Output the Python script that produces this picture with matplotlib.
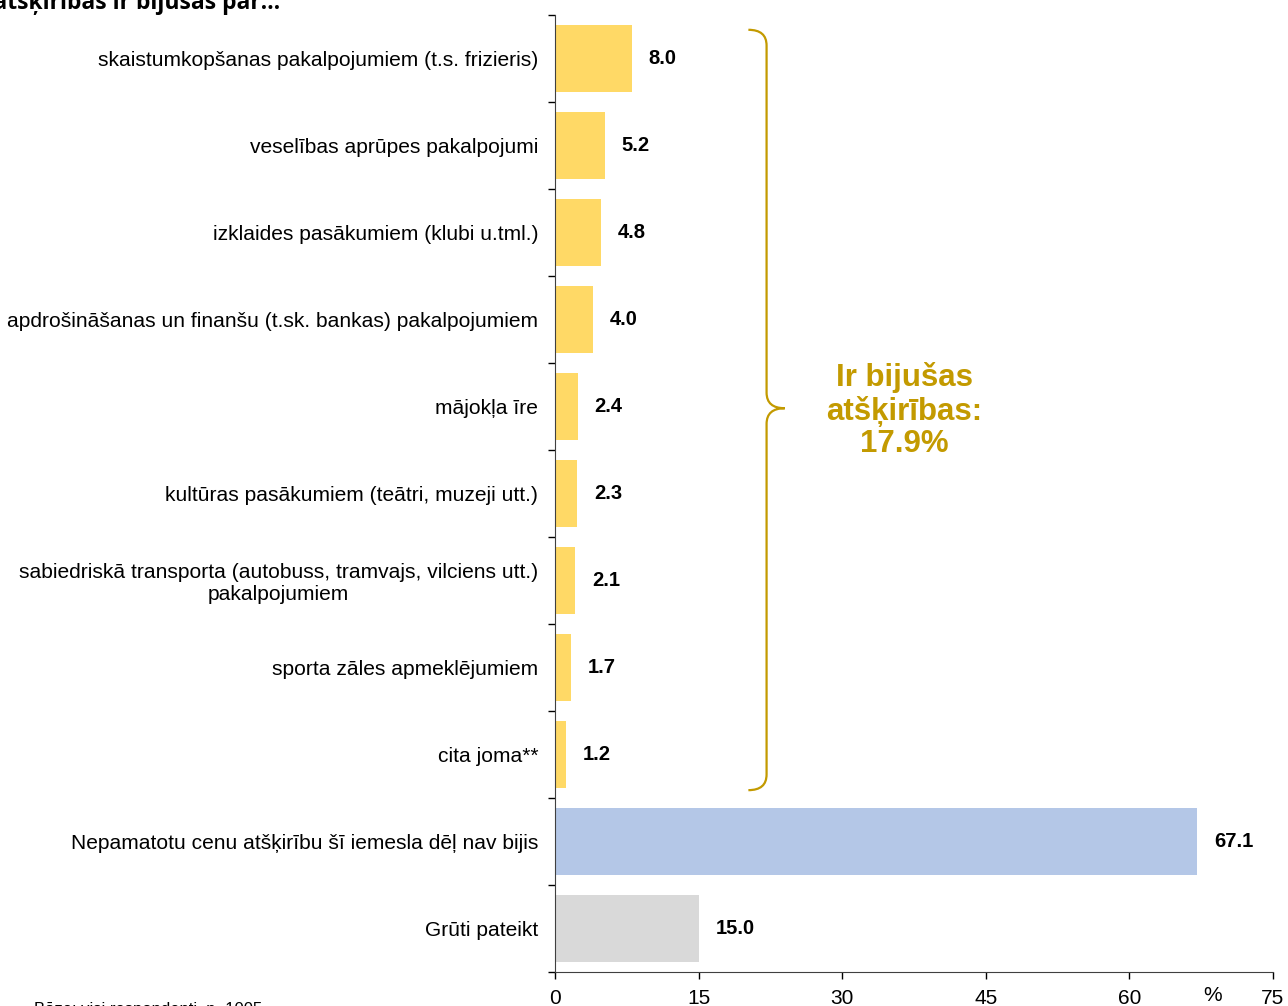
import matplotlib.pyplot as plt
from matplotlib.path import Path
from matplotlib.patches import PathPatch
import numpy as np

plt.rcParams['font.family'] = ['Liberation Sans', 'DejaVu Sans']

categories = [
    'skaistumkopšanas pakalpojumiem (t.s. frizieris)',
    'veselības aprūpes pakalpojumi',
    'izklaides pasākumiem (klubi u.tml.)',
    'apdrošināšanas un finanšu (t.sk. bankas) pakalpojumiem',
    'mājokļa īre',
    'kultūras pasākumiem (teātri, muzeji utt.)',
    'sabiedriskā transporta (autobuss, tramvajs, vilciens utt.)\npakalpojumiem',
    'sporta zāles apmeklējumiem',
    'cita joma**',
    'Nepamatotu cenu atšķirību šī iemesla dēļ nav bijis',
    'Grūti pateikt',
]
values = [8.0, 5.2, 4.8, 4.0, 2.4, 2.3, 2.1, 1.7, 1.2, 67.1, 15.0]
groups = ['yes'] * 9 + ['no', 'dk']
group_colors = {'yes': '#FFD966', 'no': '#B4C7E7', 'dk': '#D9D9D9'}
xticks = [0, 15, 30, 45, 60, 75]
brace_text = 'Ir bijušas\natšķirības:\n17.9%'
title = 'Cenu atšķirības ir bijušas par…'
base_note = 'Bāze: visi respondenti, n=1005'

gold = '#C39A00'

fig = plt.figure(figsize=(12.88, 10.06), dpi=100)
ax = fig.add_axes([555 / 1288, 1 - 972 / 1006, 718 / 1288, 957 / 1006])

y = np.arange(len(categories))
ax.barh(y, values, height=0.77, color=[group_colors[g] for g in groups])
for yi, v in zip(y, values):
    ax.text(v + 1.75, yi, f'{v:.1f}', va='center', ha='left',
            fontsize=14.5, fontweight='bold', color='black')

ax.set_xlim(0, 75)
ax.set_ylim(len(categories) - 0.5, -0.5)

ax.set_yticks(y)
ax.set_yticklabels(categories, fontsize=15.1, multialignment='center')
ax.set_yticks(np.arange(-0.5, len(categories) + 0.5, 1), minor=True)
ax.tick_params(axis='y', which='major', length=0, pad=12)
ax.tick_params(axis='y', which='minor', length=5, width=1, direction='out')

ax.set_xticks(xticks)
ax.set_xticklabels([str(t) for t in xticks], fontsize=15)
ax.tick_params(axis='x', length=5, width=1, direction='out', pad=7)

for s in ['top', 'right']:
    ax.spines[s].set_visible(False)
ax.spines['left'].set_color('#404040')
ax.spines['bottom'].set_color('#404040')

ax.annotate('%', xy=(68.7, 0), xycoords=('data', 'axes fraction'),
            xytext=(0, -10), textcoords='offset points', fontsize=15,
            ha='center', va='top')

# brace over the first nine categories
x0, xs, xt = 20.2, 22.1, 24.0
ytop, ymid, ybot = -0.33, 4.02, 8.41
c = 0.18
verts = [
    (x0, ytop), (xs, ytop), (xs, ytop + c),
    (xs, ymid - c), (xs, ymid), (xt, ymid),
    (xs, ymid), (xs, ymid + c),
    (xs, ybot - c), (xs, ybot), (x0, ybot),
]
codes = [Path.MOVETO, Path.CURVE3, Path.CURVE3,
         Path.LINETO, Path.CURVE3, Path.CURVE3,
         Path.CURVE3, Path.CURVE3,
         Path.LINETO, Path.CURVE3, Path.CURVE3]
ax.add_patch(PathPatch(Path(verts, codes), fill=False, edgecolor=gold,
                       linewidth=1.6, clip_on=False))
ax.text(36.5, 4.05, brace_text, ha='center', va='center', fontsize=22.5,
        fontweight='bold', color=gold, linespacing=1.1)

fig.text(280 / 1288, 1 - 9 / 1006, title, ha='right', va='baseline',
         fontsize=16.5, fontweight='bold', family=['Open Sans', 'DejaVu Sans'])
fig.text(262 / 1288, 1 - 1002 / 1006, base_note, ha='right', va='top',
         fontsize=12)

fig.savefig('out.png', dpi=100)
